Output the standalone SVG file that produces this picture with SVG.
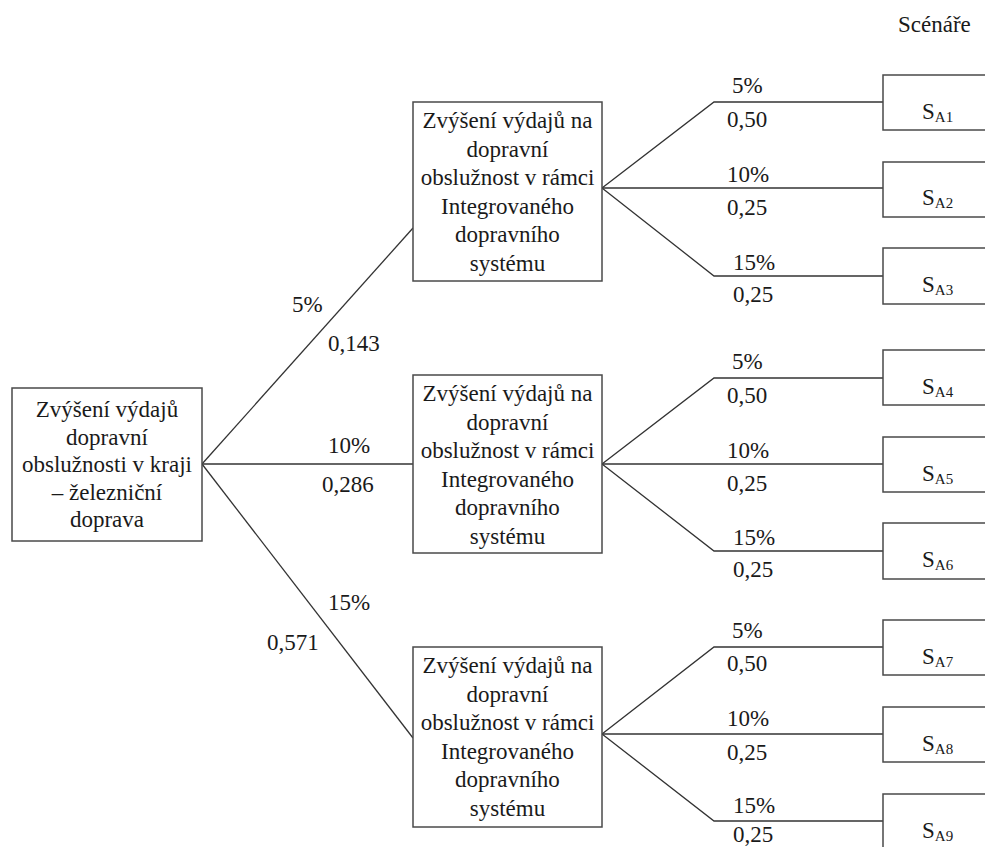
<svg xmlns="http://www.w3.org/2000/svg" width="985" height="847" viewBox="0 0 985 847">
  <style>
    .box { fill: #ffffff; stroke: #4a4a4a; stroke-width: 1.5; }
    .node { font-family: "Liberation Serif", serif; font-size: 23px; text-anchor: middle; fill: #1a1a1a; }
    .lbl { font-family: "Liberation Serif", serif; font-size: 23px; fill: #1a1a1a; }
    .sub { font-size: 15px; }
    .edge { fill: none; stroke: #333333; stroke-width: 1.3; }
  </style>

  <rect width="985" height="847" fill="#ffffff"/>

  <text class="lbl" x="898" y="32">Scénáře</text>

  <!-- connectors -->
  <g id="connectors">
    <path class="edge" d="M202,464 L413,228"/>
    <path class="edge" d="M202,464 L413,464"/>
    <path class="edge" d="M202,464 L413,738"/>

    <path class="edge" d="M602,188 L714,102 L883,102"/>
    <path class="edge" d="M602,188 L883,188"/>
    <path class="edge" d="M602,188 L714,276 L883,276"/>

    <path class="edge" d="M602,464 L714,378 L883,378"/>
    <path class="edge" d="M602,464 L883,464"/>
    <path class="edge" d="M602,464 L714,551 L883,551"/>

    <path class="edge" d="M602,734 L714,647 L883,647"/>
    <path class="edge" d="M602,734 L883,734"/>
    <path class="edge" d="M602,734 L714,821 L883,821"/>

    <!-- first-level branch labels -->
    <text class="lbl" x="292" y="312">5%</text>
    <text class="lbl" x="328" y="351">0,143</text>
    <text class="lbl" x="328" y="453">10%</text>
    <text class="lbl" x="322" y="492">0,286</text>
    <text class="lbl" x="328" y="610">15%</text>
    <text class="lbl" x="267" y="650">0,571</text>

    <!-- second-level branch labels -->
    <text class="lbl" x="732" y="93">5%</text>
    <text class="lbl" x="727" y="127">0,50</text>
    <text class="lbl" x="727" y="182">10%</text>
    <text class="lbl" x="727" y="215">0,25</text>
    <text class="lbl" x="733" y="270">15%</text>
    <text class="lbl" x="733" y="302">0,25</text>

    <text class="lbl" x="732" y="369">5%</text>
    <text class="lbl" x="727" y="403">0,50</text>
    <text class="lbl" x="727" y="458">10%</text>
    <text class="lbl" x="727" y="491">0,25</text>
    <text class="lbl" x="733" y="545">15%</text>
    <text class="lbl" x="733" y="577">0,25</text>

    <text class="lbl" x="732" y="638">5%</text>
    <text class="lbl" x="727" y="671">0,50</text>
    <text class="lbl" x="727" y="726">10%</text>
    <text class="lbl" x="727" y="760">0,25</text>
    <text class="lbl" x="733" y="813">15%</text>
    <text class="lbl" x="733" y="842">0,25</text>
  </g>

  <!-- root decision -->
  <g id="root">
    <rect class="box" x="12" y="388" width="190" height="153"/>
    <text class="node" x="107" y="417">Zvýšení výdajů</text>
    <text class="node" x="107" y="444.5">dopravní</text>
    <text class="node" x="107" y="472">obslužnosti v kraji</text>
    <text class="node" x="107" y="499.5">– železniční</text>
    <text class="node" x="107" y="527">doprava</text>
  </g>

  <!-- second-level decisions -->
  <g id="ids-1">
    <rect class="box" x="413" y="102" width="189" height="179"/>
    <text class="node" x="507.5" y="128">Zvýšení výdajů na</text>
    <text class="node" x="507.5" y="156.5">dopravní</text>
    <text class="node" x="507.5" y="185">obslužnost v rámci</text>
    <text class="node" x="507.5" y="213.5">Integrovaného</text>
    <text class="node" x="507.5" y="242">dopravního</text>
    <text class="node" x="507.5" y="270.5">systému</text>
  </g>
  <g id="ids-2">
    <rect class="box" x="413" y="375" width="189" height="178"/>
    <text class="node" x="507.5" y="401">Zvýšení výdajů na</text>
    <text class="node" x="507.5" y="429.5">dopravní</text>
    <text class="node" x="507.5" y="458">obslužnost v rámci</text>
    <text class="node" x="507.5" y="486.5">Integrovaného</text>
    <text class="node" x="507.5" y="515">dopravního</text>
    <text class="node" x="507.5" y="543.5">systému</text>
  </g>
  <g id="ids-3">
    <rect class="box" x="413" y="647" width="189" height="180"/>
    <text class="node" x="507.5" y="673">Zvýšení výdajů na</text>
    <text class="node" x="507.5" y="701.5">dopravní</text>
    <text class="node" x="507.5" y="730">obslužnost v rámci</text>
    <text class="node" x="507.5" y="758.5">Integrovaného</text>
    <text class="node" x="507.5" y="787">dopravního</text>
    <text class="node" x="507.5" y="815.5">systému</text>
  </g>

  <!-- scenarios -->
  <g id="sa1"><rect class="box" x="883" y="75" width="110" height="55"/><text class="lbl" x="922" y="119">S<tspan class="sub" dy="3">A1</tspan></text></g>
  <g id="sa2"><rect class="box" x="883" y="162" width="110" height="55"/><text class="lbl" x="922" y="205">S<tspan class="sub" dy="3">A2</tspan></text></g>
  <g id="sa3"><rect class="box" x="883" y="248" width="110" height="56"/><text class="lbl" x="922" y="292">S<tspan class="sub" dy="3">A3</tspan></text></g>
  <g id="sa4"><rect class="box" x="883" y="350" width="110" height="55"/><text class="lbl" x="922" y="394">S<tspan class="sub" dy="3">A4</tspan></text></g>
  <g id="sa5"><rect class="box" x="883" y="437" width="110" height="55"/><text class="lbl" x="922" y="481">S<tspan class="sub" dy="3">A5</tspan></text></g>
  <g id="sa6"><rect class="box" x="883" y="523" width="110" height="56"/><text class="lbl" x="922" y="567">S<tspan class="sub" dy="3">A6</tspan></text></g>
  <g id="sa7"><rect class="box" x="883" y="620" width="110" height="55"/><text class="lbl" x="922" y="664">S<tspan class="sub" dy="3">A7</tspan></text></g>
  <g id="sa8"><rect class="box" x="883" y="707" width="110" height="55"/><text class="lbl" x="922" y="751">S<tspan class="sub" dy="3">A8</tspan></text></g>
  <g id="sa9"><rect class="box" x="883" y="794" width="110" height="60"/><text class="lbl" x="922" y="838">S<tspan class="sub" dy="3">A9</tspan></text></g>
</svg>
